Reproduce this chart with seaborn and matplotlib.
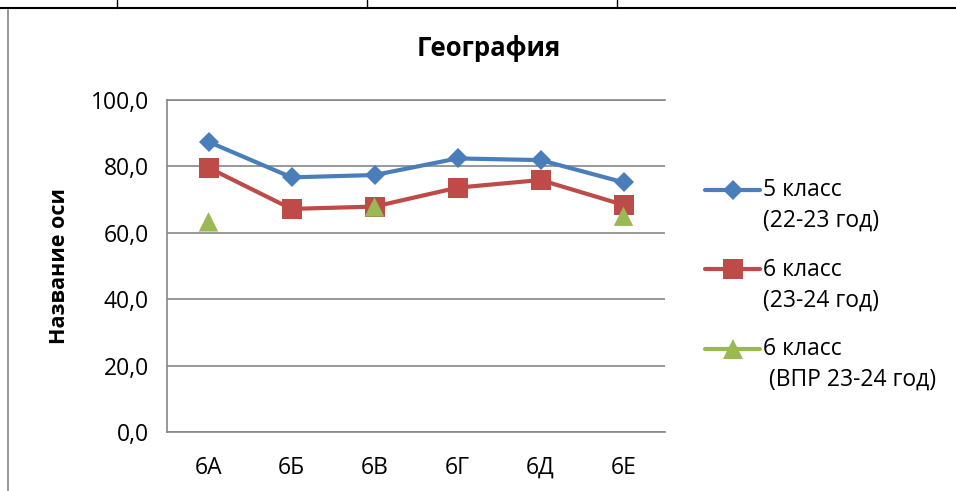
import numpy as np
import pandas as pd
import seaborn as sns
import matplotlib.pyplot as plt
from matplotlib.lines import Line2D
from matplotlib.legend_handler import HandlerLine2D
from matplotlib.ticker import FuncFormatter

# chart data
classes = ['6А', '6Б', '6В', '6Г', '6Д', '6Е']
grade5_2223 = [87.4, 76.7, 77.4, 82.4, 81.9, 75.2]
grade6_2324 = [79.6, 67.2, 67.9, 73.6, 75.9, 68.4]
vpr_2324 = [63.3, np.nan, 67.8, np.nan, np.nan, 65.0]
series_labels = ['5 класс\n(22-23 год)', '6 класс\n(23-24 год)', '6 класс\n (ВПР 23-24 год)']
y_ticks = [0, 20, 40, 60, 80, 100]

BLUE = '#4A7EBB'
RED = '#BE4B48'
GREEN = '#98B954'
GRAY = '#868686'
FS = 16.5

sns.set_style('white')
plt.rcParams['font.family'] = ['Open Sans', 'DejaVu Sans']
plt.rcParams.update({'text.color': 'black', 'axes.labelcolor': 'black',
                     'xtick.color': 'black', 'ytick.color': 'black'})

df = pd.DataFrame({'class': classes, 'g5': grade5_2223,
                   'g6': grade6_2324, 'vpr': vpr_2324})


class HandlerTopLine(HandlerLine2D):
    """Legend handle aligned with the first line of a two-line label."""
    def __init__(self, shift, **kw):
        super().__init__(**kw)
        self.shift = shift

    def create_artists(self, legend, orig_handle, xdescent, ydescent,
                       width, height, fontsize, trans):
        artists = super().create_artists(legend, orig_handle, xdescent, ydescent,
                                         width, height, fontsize, trans)
        for a in artists:
            a.set_ydata(np.asarray(a.get_ydata()) + self.shift)
        return artists


fig = plt.figure(figsize=(9.56, 4.91), dpi=100)
ax = fig.add_axes([167 / 956, 1 - 432 / 491, 498 / 956, 332 / 491])

sns.lineplot(data=df, x='class', y='g5', ax=ax, color=BLUE, lw=3,
             marker='D', markersize=10, markeredgecolor=BLUE, markeredgewidth=0,
             sort=False)
sns.lineplot(data=df, x='class', y='g6', ax=ax, color=RED, lw=3,
             marker='s', markersize=14, markeredgecolor=RED, markeredgewidth=0,
             sort=False)
sns.scatterplot(data=df, x='class', y='vpr', ax=ax, color=GREEN,
                marker='^', s=14 ** 2, edgecolor='none', zorder=3)

ax.set_xlim(-0.5, 5.5)
ax.set_ylim(0, 100)
ax.set_yticks(y_ticks)
ax.yaxis.set_major_formatter(FuncFormatter(lambda v, p: f'{v:.1f}'.replace('.', ',')))
ax.yaxis.grid(True, color=GRAY, lw=1.2)
ax.set_axisbelow(True)
for side in ['left', 'bottom', 'top']:
    ax.spines[side].set_color(GRAY)
    ax.spines[side].set_linewidth(1.2)
ax.spines['right'].set_visible(False)
ax.tick_params(axis='y', direction='out', length=4, width=1.2, color=GRAY,
               pad=9, labelsize=FS, labelcolor='black')
ax.tick_params(axis='x', length=0, pad=17, labelsize=FS, labelcolor='black')
ax.set_xlabel('')
ax.set_ylabel('Название оси', fontsize=15.5, fontweight='bold')
ax.yaxis.set_label_coords(-0.195, 0.5)

fig.text(489 / 956, 1 - 49 / 491, 'География', ha='center', va='center',
         fontsize=18.5, fontweight='bold')

handles = [
    Line2D([], [], color=BLUE, lw=3, marker='D', markersize=10, markeredgewidth=0),
    Line2D([], [], color=RED, lw=3, marker='s', markersize=14, markeredgewidth=0),
    Line2D([], [], color=GREEN, lw=3, marker='^', markersize=14, markeredgewidth=0),
]
top = HandlerTopLine(12)
leg = fig.legend(handles, series_labels, loc='center left',
                 bbox_to_anchor=(705 / 956, 1 - 285 / 491), frameon=False,
                 fontsize=FS, handlelength=2.4, handletextpad=0.15,
                 labelspacing=1.1, borderpad=0, borderaxespad=0,
                 handler_map={h: top for h in handles})
for t in leg.get_texts():
    t.set_linespacing(1.35)

# page / table borders around the chart
fig.add_artist(Line2D([0, 1], [1 - 8 / 491] * 2, color='black', lw=1.5))
for xp in [117, 367, 617]:
    fig.add_artist(Line2D([xp / 956] * 2, [1, 1 - 8 / 491], color='black', lw=1))
fig.add_artist(Line2D([8 / 956] * 2, [1 - 10 / 491, 0], color=GRAY, lw=1.2))

fig.savefig('out.png', dpi=100)
